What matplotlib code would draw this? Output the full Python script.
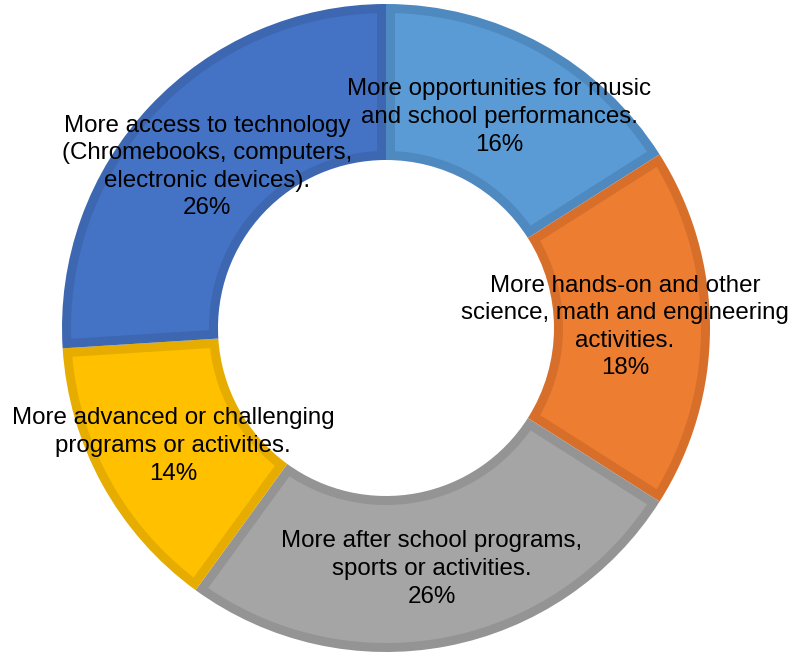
import matplotlib
matplotlib.use("Agg")
import matplotlib.pyplot as plt
import numpy as np
from matplotlib.patches import Polygon

categories = [
    "More opportunities for music\nand school performances.",
    "More hands-on and other\nscience, math and engineering\nactivities.",
    "More after school programs,\nsports or activities.",
    "More advanced or challenging\nprograms or activities.",
    "More access to technology\n(Chromebooks, computers,\nelectronic devices).",
]
values = [16, 18, 26, 14, 26]
colors = ["#5B9BD5", "#ED7D31", "#A5A5A5", "#FFC000", "#4472C4"]
edge_colors = ["#4E89BF", "#D76F2A", "#949494", "#E6AD00", "#3D67B1"]
# label centers in pixel coordinates (x, y from top)
label_pos = [(499, 117), (625, 327), (432, 569), (173, 446), (207, 167)]

W, H = 794, 656
fig = plt.figure(figsize=(W / 100, H / 100), dpi=100)
ax = fig.add_axes([0, 0, 1, 1])

cx, cy = 386, H - 328
R, Rin = 324, 168
d = 9  # bevel border width in px

wedges, _ = ax.pie(values, colors=edge_colors, startangle=90, counterclock=False,
                   radius=R, center=(cx, cy), frame=True,
                   wedgeprops=dict(width=R - Rin, linewidth=0))
ax.set_xlim(0, W)
ax.set_ylim(0, H)
ax.set_aspect("equal")
ax.axis("off")

for w, c in zip(wedges, colors):
    t1, t2 = np.radians(w.theta1), np.radians(w.theta2)
    ro, ri = R - d, Rin + d
    so, si = np.arcsin(d / ro), np.arcsin(d / ri)
    ao = np.linspace(t1 + so, t2 - so, 120)
    ai = np.linspace(t2 - si, t1 + si, 120)
    xs = np.concatenate([cx + ro * np.cos(ao), cx + ri * np.cos(ai)])
    ys = np.concatenate([cy + ro * np.sin(ao), cy + ri * np.sin(ai)])
    ax.add_patch(Polygon(np.column_stack([xs, ys]), closed=True,
                         facecolor=c, edgecolor="none", zorder=2))

for lab, v, (x, y) in zip(categories, values, label_pos):
    ax.text(x, H - y, f"{lab}\n{v}%", ha="center", va="center",
            fontsize=17.4, family="Liberation Sans", color="black",
            linespacing=1.33, zorder=3)

fig.savefig("out.png", dpi=100)
